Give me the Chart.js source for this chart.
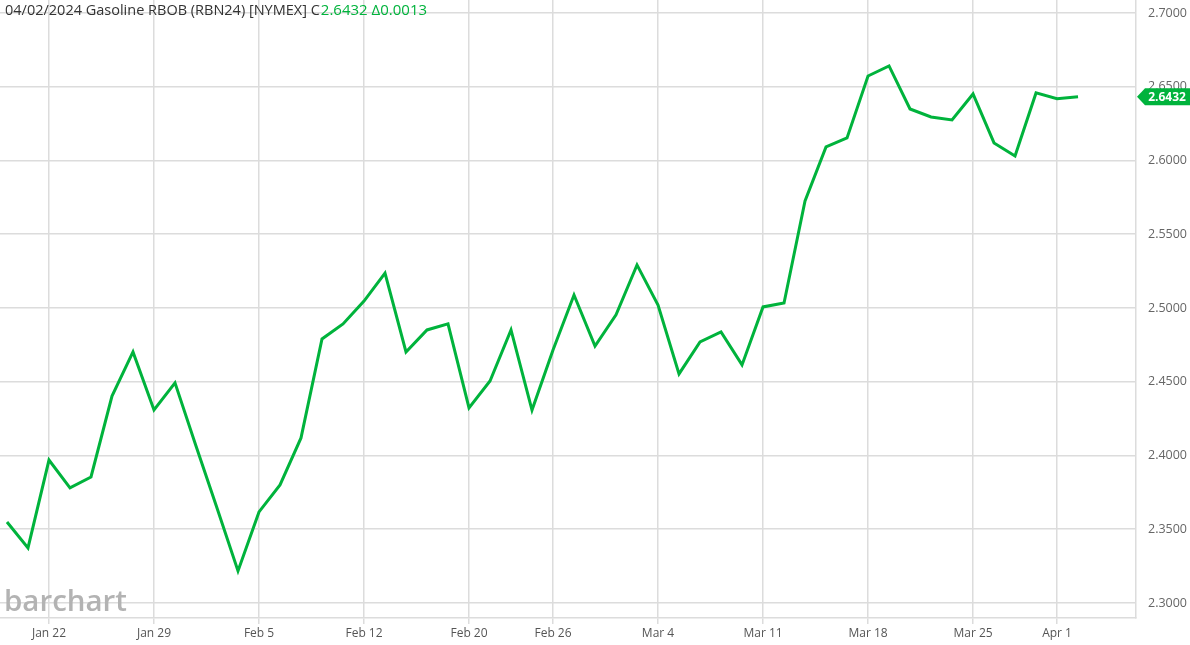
<!DOCTYPE html>
<html>
<head>
<meta charset="utf-8">
<script src="https://cdn.jsdelivr.net/npm/chart.js@4"></script>
<style>
  html, body { margin: 0; padding: 0; background: #fff; }
  #wrap { width: 1190px; height: 645px; position: relative; }
</style>
</head>
<body>
<div id="wrap"><canvas id="chart"></canvas></div>
<script>
// trading days, Jan 18 - Apr 2 2024
const dates = [
  'Jan 18', 'Jan 19',
  'Jan 22', 'Jan 23', 'Jan 24', 'Jan 25', 'Jan 26',
  'Jan 29', 'Jan 30', 'Jan 31', 'Feb 1', 'Feb 2',
  'Feb 5', 'Feb 6', 'Feb 7', 'Feb 8', 'Feb 9',
  'Feb 12', 'Feb 13', 'Feb 14', 'Feb 15', 'Feb 16',
  'Feb 20', 'Feb 21', 'Feb 22', 'Feb 23',
  'Feb 26', 'Feb 27', 'Feb 28', 'Feb 29', 'Mar 1',
  'Mar 4', 'Mar 5', 'Mar 6', 'Mar 7', 'Mar 8',
  'Mar 11', 'Mar 12', 'Mar 13', 'Mar 14', 'Mar 15',
  'Mar 18', 'Mar 19', 'Mar 20', 'Mar 21', 'Mar 22',
  'Mar 25', 'Mar 26', 'Mar 27', 'Mar 28',
  'Apr 1', 'Apr 2'
];
const closes = [
  2.3549, 2.3373,
  2.3969, 2.3780, 2.3854, 2.4403, 2.4702,
  2.4308, 2.4492, 2.4064, 2.3644, 2.3217,
  2.3617, 2.3800, 2.4119, 2.4790, 2.4892,
  2.5047, 2.5237, 2.4702, 2.4851, 2.4892,
  2.4322, 2.4505, 2.4851, 2.4308,
  2.4715, 2.5088, 2.4742, 2.4953, 2.5292,
  2.5020, 2.4553, 2.4770, 2.4837, 2.4614,
  2.5007, 2.5034, 2.5725, 2.6092, 2.6153,
  2.6573, 2.6641, 2.6349, 2.6295, 2.6275,
  2.6451, 2.6119, 2.6031, 2.6458,
  2.6419, 2.6432
];
const tickDates = ['Jan 22', 'Jan 29', 'Feb 5', 'Feb 12', 'Feb 20', 'Feb 26',
  'Mar 4', 'Mar 11', 'Mar 18', 'Mar 25', 'Apr 1'];
const priceTicks = [2.30, 2.35, 2.40, 2.45, 2.50, 2.55, 2.60, 2.65, 2.70];

const GREEN = '#00b33c';
const FONT = '"Open Sans", sans-serif';

const points = closes.map((v, i) => ({ x: i, y: v }));

// header text, watermark and last price badge
const overlay = {
  id: 'overlay',
  afterDraw(chart) {
    const ctx = chart.ctx;
    const yScale = chart.scales.y;
    ctx.save();

    // watermark
    ctx.fillStyle = '#b3b3b3';
    ctx.font = '600 28px ' + FONT;
    const w = ctx.measureText('barchart').width;
    ctx.save();
    ctx.translate(4, 611);
    ctx.scale(123 / w, 1);
    ctx.textBaseline = 'alphabetic';
    ctx.fillText('barchart', 0, 0);
    ctx.restore();

    // header
    ctx.font = '14.5px ' + FONT;
    ctx.textBaseline = 'middle';
    ctx.fillStyle = '#333';
    const head = '04/02/2024 Gasoline RBOB (RBN24) [NYMEX] C';
    ctx.fillText(head, 5, 11);
    const hw = ctx.measureText(head).width;
    ctx.fillStyle = GREEN;
    const last = closes[closes.length - 1];
    const chg = last - closes[closes.length - 2];
    ctx.font = '15px ' + FONT;
    ctx.fillText(last.toFixed(4) + ' \u0394' + chg.toFixed(4), 5 + hw + 1, 11);

    // last price badge
    const yy = yScale.getPixelForValue(last);
    const x0 = chart.chartArea.right + 1;
    ctx.fillStyle = GREEN;
    ctx.beginPath();
    ctx.moveTo(x0, yy);
    ctx.lineTo(x0 + 8, yy - 8.5);
    ctx.lineTo(1190, yy - 8.5);
    ctx.lineTo(1190, yy + 8.5);
    ctx.lineTo(x0 + 8, yy + 8.5);
    ctx.closePath();
    ctx.fill();
    ctx.fillStyle = '#fff';
    ctx.font = 'bold 12px ' + FONT;
    ctx.textAlign = 'center';
    ctx.fillText(last.toFixed(4), x0 + 30, yy + 0.5);

    ctx.restore();
  }
};

new Chart(document.getElementById('chart'), {
  type: 'line',
  data: {
    datasets: [{
      data: points,
      borderColor: GREEN,
      borderWidth: 3,
      pointRadius: 0,
      tension: 0,
      fill: false
    }]
  },
  options: {
    responsive: true,
    maintainAspectRatio: false,
    animation: false,
    layout: { padding: 0 },
    plugins: {
      legend: { display: false },
      tooltip: { enabled: false }
    },
    scales: {
      x: {
        type: 'linear',
        min: -0.333,
        max: 53.76,
        afterBuildTicks(axis) {
          axis.ticks = tickDates.map(d => ({ value: dates.indexOf(d) }));
        },
        afterFit(axis) {
          axis.height = 27;
          axis.paddingLeft = 0;
          axis.paddingRight = 0;
        },
        ticks: {
          autoSkip: false,
          maxRotation: 0,
          padding: 2,
          color: '#555',
          font: { family: FONT, size: 12 },
          callback: v => dates[v]
        },
        grid: { color: '#dcdcdc', lineWidth: 1.5, tickLength: 6 },
        border: { color: '#dcdcdc', width: 1.5 }
      },
      y: {
        position: 'right',
        min: 2.2898,
        max: 2.7088,
        afterBuildTicks(axis) {
          axis.ticks = priceTicks.map(v => ({ value: v }));
        },
        afterFit(axis) {
          axis.width = 54;
          axis.paddingTop = 0;
          axis.paddingBottom = 0;
        },
        ticks: {
          padding: 12,
          color: '#666',
          font: { family: FONT, size: 12.5 },
          callback: v => Number(v).toFixed(4)
        },
        grid: { color: '#dcdcdc', lineWidth: 1.5, drawTicks: false },
        border: { color: '#dcdcdc', width: 1.5 }
      }
    }
  },
  plugins: [overlay]
});
</script>
</body>
</html>
